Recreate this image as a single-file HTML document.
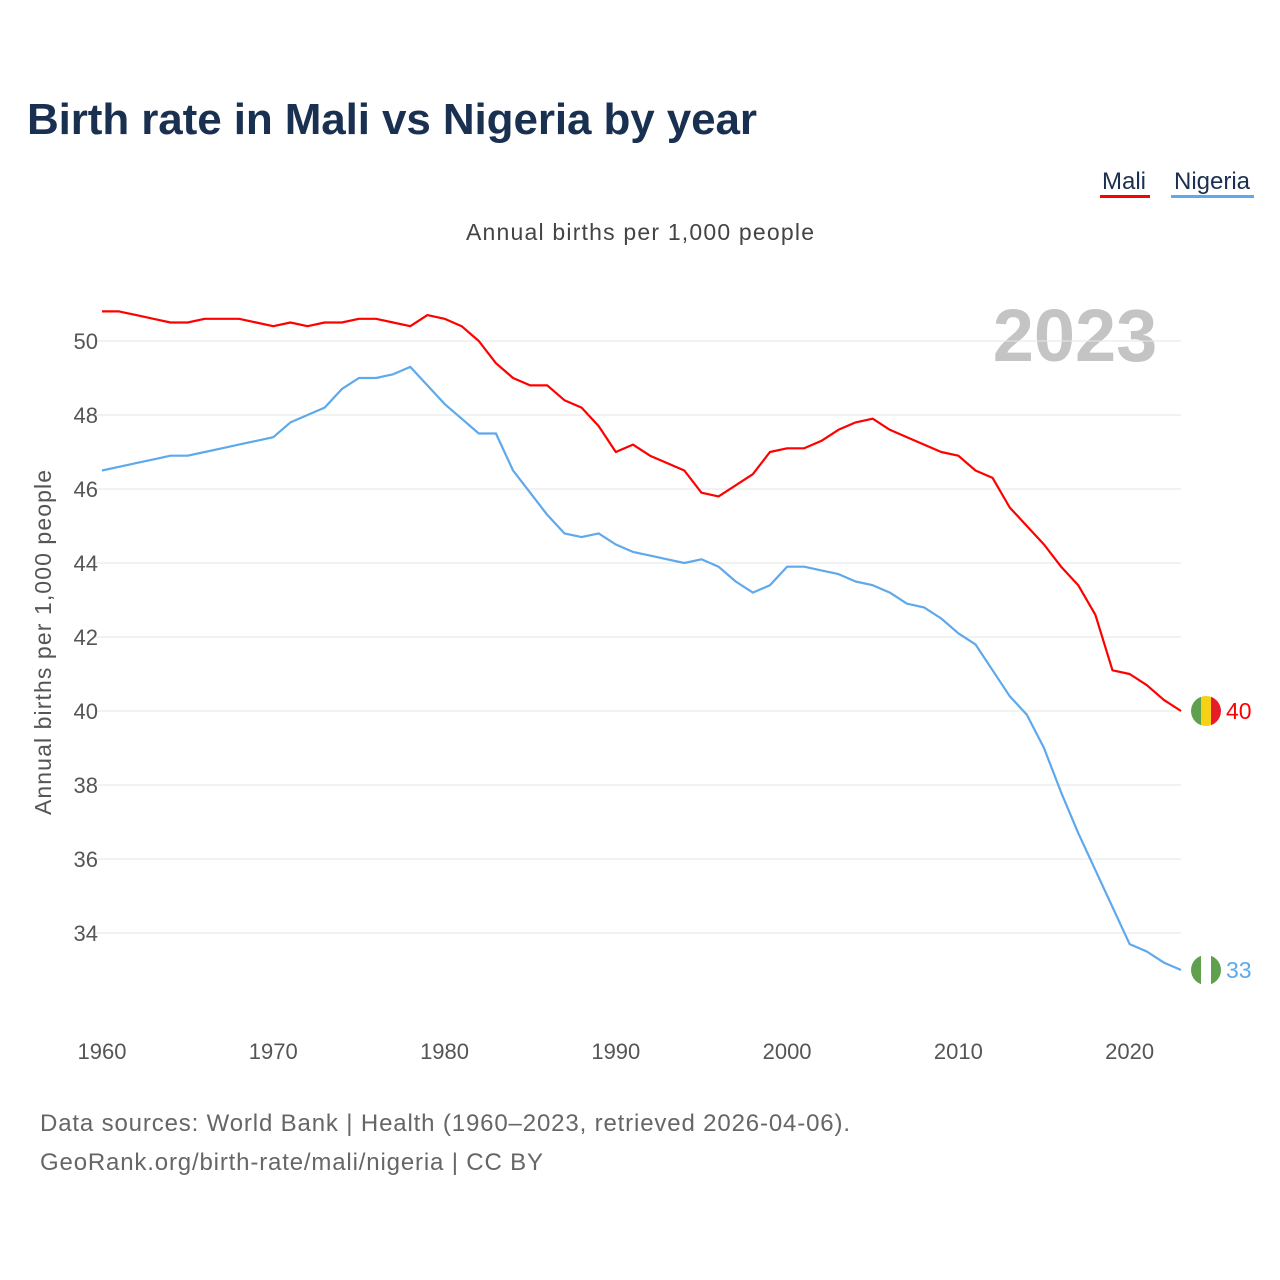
<!DOCTYPE html>
<html><head><meta charset="utf-8"><style>
body{margin:0;background:#fff;font-family:"Liberation Sans",sans-serif;}
#wrap{position:relative;width:1280px;height:1280px;overflow:hidden;}
</style></head><body>
<div id="wrap">
<svg id="chart" width="1280" height="1280">
<text x="27" y="134" font-size="44" font-weight="bold" fill="#1a3050" textLength="730">Birth rate in Mali vs Nigeria by year</text>
<g>
<text x="1124" y="189" font-size="24" fill="#1a3050" text-anchor="middle">Mali</text>
<rect x="1100" y="195" width="50" height="3" fill="#ff0000"/>
<text x="1212" y="189" font-size="24" fill="#1a3050" text-anchor="middle">Nigeria</text>
<rect x="1171" y="195" width="83" height="3" fill="#5ea8ec"/>
</g>
<text x="466" y="240" font-size="23" fill="#444" textLength="348">Annual births per 1,000 people</text>
<text x="1075" y="361" font-size="74" font-weight="bold" fill="#c4c4c4" text-anchor="middle">2023</text>
<text transform="translate(51,815) rotate(-90)" font-size="23" fill="#555" textLength="345">Annual births per 1,000 people</text>
<g id="grid"></g><g id="yt"></g><g id="xt"></g><g id="lines"></g><g id="ends"></g>
<text x="40" y="1131" font-size="24" fill="#666" textLength="810">Data sources: World Bank | Health (1960–2023, retrieved 2026-04-06).</text>
<text x="40" y="1170" font-size="24" fill="#666" textLength="503">GeoRank.org/birth-rate/mali/nigeria | CC BY</text>
</svg></div>
<script>
const years=[];for(let y=1960;y<=2023;y++)years.push(y);
const mali=[50.8,50.8,50.7,50.6,50.5,50.5,50.6,50.6,50.6,50.5,50.4,50.5,50.4,50.5,50.5,50.6,50.6,50.5,50.4,50.7,50.6,50.4,50.0,49.4,49.0,48.8,48.8,48.4,48.2,47.7,47.0,47.2,46.9,46.7,46.5,45.9,45.8,46.1,46.4,47.0,47.1,47.1,47.3,47.6,47.8,47.9,47.6,47.4,47.2,47.0,46.9,46.5,46.3,45.5,45.0,44.5,43.9,43.4,42.6,41.1,41.0,40.7,40.3,40.0];
const nigeria=[46.5,46.6,46.7,46.8,46.9,46.9,47.0,47.1,47.2,47.3,47.4,47.8,48.0,48.2,48.7,49.0,49.0,49.1,49.3,48.8,48.3,47.9,47.5,47.5,46.5,45.9,45.3,44.8,44.7,44.8,44.5,44.3,44.2,44.1,44.0,44.1,43.9,43.5,43.2,43.4,43.9,43.9,43.8,43.7,43.5,43.4,43.2,42.9,42.8,42.5,42.1,41.8,41.1,40.4,39.9,39.0,37.8,36.7,35.7,34.7,33.7,33.5,33.2,33.0];
const yTicks=[34,36,38,40,42,44,46,48,50];
const xTicks=[1960,1970,1980,1990,2000,2010,2020];
const NS="http://www.w3.org/2000/svg";
const X=v=>102+(v-1960)*(1181-102)/63;
const Y=v=>341+(50-v)*37;
function mk(t,a,p){const e=document.createElementNS(NS,t);for(const k in a)e.setAttribute(k,a[k]);p.appendChild(e);return e;}
const grid=document.getElementById('grid'),yt=document.getElementById('yt'),xt=document.getElementById('xt');
yTicks.forEach(v=>{
 const l=mk('line',{x1:95,x2:1181,y1:Y(v),y2:Y(v),stroke:'#e6e6e6','stroke-width':1},grid);
 
 
 const t=mk('text',{x:98,y:Y(v)+8,'font-size':22,fill:'#555','text-anchor':'end'},yt);t.textContent=v;
 
 
});
xTicks.forEach(v=>{
 const t=mk('text',{x:X(v),y:1059,'font-size':22,fill:'#555','text-anchor':'middle'},xt);t.textContent=v;
 
 
});
const lines=document.getElementById('lines');
function line(d,c,n){
 const p=mk('polyline',{points:d.map((v,i)=>X(years[i])+','+Y(v)).join(' '),fill:'none',stroke:c,'stroke-width':2.2,'stroke-linejoin':'round'},lines);
 
 
}
line(nigeria,'#5ea8ec','line-nigeria');
line(mali,'#ff0000','line-mali');
const ends=document.getElementById('ends');
function flag(v,cols,col,n){
 const cx=1206,cy=Y(v),r=15;
 const g=mk('g',{},ends);
 
 
 const id='clip'+n;const cp=mk('clipPath',{id:id},g);mk('circle',{cx:cx,cy:cy,r:r},cp);
 cols.forEach((c,i)=>mk('rect',{x:cx-r+i*2*r/3,y:cy-r,width:2*r/3+0.5,height:2*r,fill:c,'clip-path':'url(#'+id+')'},g));
 const t=mk('text',{x:1226,y:cy+8,'font-size':23,fill:col},ends);t.textContent=Math.round(v);
 
 
}
flag(mali[mali.length-1],['#5fa04e','#f7d116','#e61c28'],'#ff0000','mali');
flag(nigeria[nigeria.length-1],['#5fa04e','#ffffff','#5fa04e'],'#5ea8ec','nigeria');
</script>
</body></html>
